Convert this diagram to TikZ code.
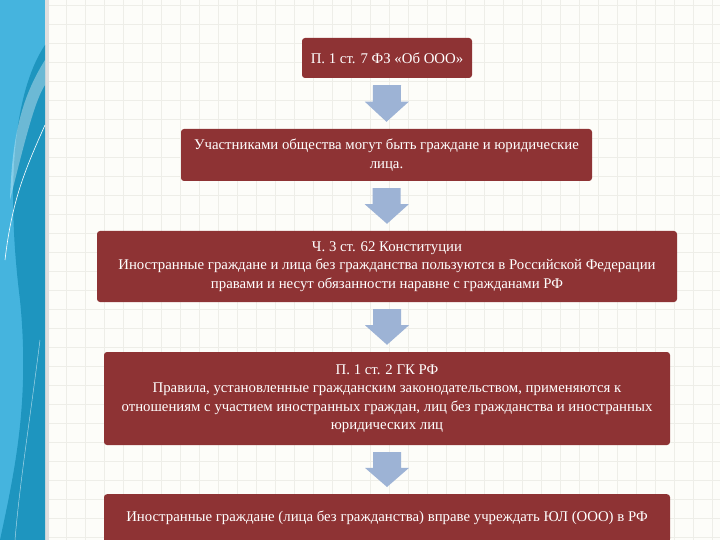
\documentclass[tikz,border=0pt]{standalone}
\usepackage{fontspec}
\setmainfont{Liberation Serif}
\usetikzlibrary{calc}
\definecolor{boxred}{HTML}{8E3334}
\definecolor{arr}{HTML}{9DB3D5}
\definecolor{gridc}{HTML}{EEEEE8}
\definecolor{bg}{HTML}{FDFDF9}
\definecolor{band}{HTML}{45B4DE}
\definecolor{banddark}{HTML}{1E95BF}
\begin{document}
\begin{tikzpicture}[x=1pt,y=-1pt,
  box/.style={fill=boxred,rounded corners=3pt,text=white,align=center,inner sep=0pt,font=\fontsize{14.8}{18.5}\selectfont}]
\useasboundingbox (0,0) rectangle (720,540);
\fill[bg] (0,0) rectangle (720,540);
\foreach \x in {47,66,...,720} \draw[gridc,line width=0.6pt] (\x,0) -- (\x,540);
\foreach \y in {5,24,...,540} \draw[gridc,line width=0.6pt] (45,\y) -- (720,\y);
% left band
\fill[gray!25] (45,0) rectangle (49,540);
\fill[band] (0,0) rectangle (45,540);
\fill[banddark] (45,45) .. controls (15,90) and (5,180) .. (20,300) .. controls (30,400) and (15,470) .. (0,540) -- (45,540) -- cycle;
\fill[white,opacity=0.35] (45,60) .. controls (20,100) and (12,140) .. (10,200) .. controls (25,140) and (35,100) .. (45,85) -- cycle;
\draw[white,line width=0.6pt] (45,125) .. controls (25,170) and (12,200) .. (5,260);
\draw[white,opacity=0.6,line width=0.5pt] (40,340) .. controls (30,420) and (20,480) .. (15,540);
% boxes
\node[box,minimum width=170,minimum height=40] (b1) at (387,58) {П. 1 ст. 7 ФЗ «Об ООО»};
\node[box,minimum width=411,minimum height=52] (b2) at (386.5,155) {Участниками общества могут быть граждане и юридические\\лица.};
\node[box,minimum width=580,minimum height=71] (b3) at (387,266.5) {Ч. 3 ст. 62 Конституции\\Иностранные граждане и лица без гражданства пользуются в Российской Федерации\\правами и несут обязанности наравне с гражданами РФ};
\node[box,minimum width=566,minimum height=93] (b4) at (387,398.5) {П. 1 ст. 2 ГК РФ\\Правила, установленные гражданским законодательством, применяются к\\отношениям с участием иностранных граждан, лиц без гражданства и иностранных\\юридических лиц};
\node[box,minimum width=566,minimum height=48,anchor=north] (b5) at (387,494) {Иностранные граждане (лица без гражданства) вправе учреждать ЮЛ (ООО) в РФ};
% arrows
\foreach \a/\b in {b1/b2,b2/b3,b3/b4,b4/b5}{
  \path (\a.south) ++(0,7) coordinate (s) (\b.north) ++(0,-7) coordinate (e);
  \fill[arr] ($(s)+(-14,0)$) -- ($(s)+(14,0)$) -- ($(s)!0.45!(e)+(14,0)$) -- ($(s)!0.45!(e)+(22,0)$) -- (e) -- ($(s)!0.45!(e)+(-22,0)$) -- ($(s)!0.45!(e)+(-14,0)$) -- cycle;
}
\end{tikzpicture}
\end{document}
